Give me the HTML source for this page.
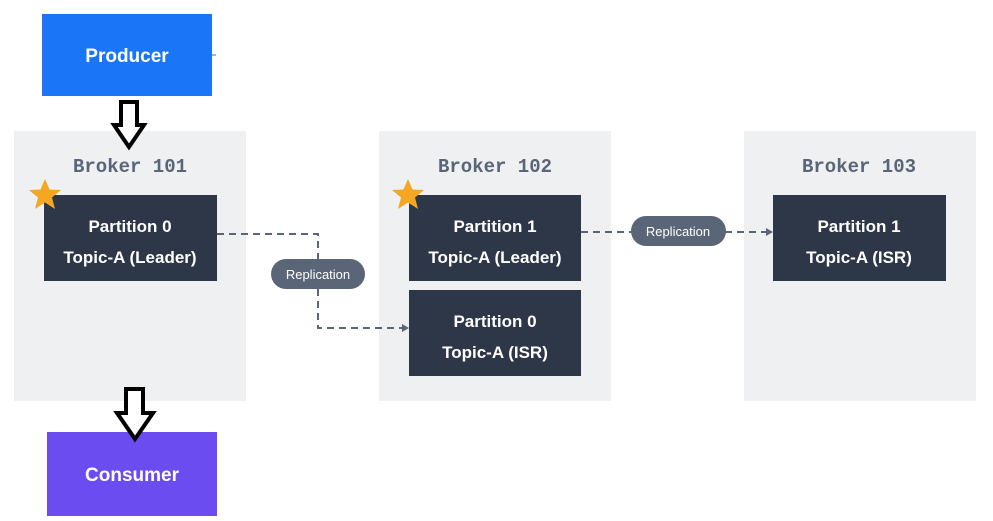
<!DOCTYPE html>
<html><head><style>body{margin:0;background:#fff}svg{display:block}</style></head><body>
<svg width="993" height="521" xmlns="http://www.w3.org/2000/svg" font-family="Liberation Sans, sans-serif">
<rect width="993" height="521" fill="#fff"/>
<rect x="42" y="14" width="170" height="82" fill="#1a76f7"/>
<line x1="212" y1="55" x2="216" y2="55" stroke="#1a76f7"/>
<text x="127" y="62" font-size="19" font-weight="bold" fill="#fff" text-anchor="middle">Producer</text>
<rect x="14" y="131" width="232" height="270" fill="#eef0f2"/>
<rect x="379" y="131" width="232" height="270" fill="#eef0f2"/>
<rect x="744" y="131" width="232" height="270" fill="#eef0f2"/>
<g font-family="Liberation Mono, monospace" font-weight="bold" font-size="19" fill="#5a6577" text-anchor="middle">
<text x="130" y="172">Broker 101</text><text x="495" y="172">Broker 102</text><text x="859" y="172">Broker 103</text></g>
<g stroke="#5a6577" stroke-width="2" stroke-dasharray="7,5" fill="none">
<polyline points="217,234 318,234 318,328 405,328"/>
<line x1="581" y1="232" x2="772" y2="232"/>
</g>
<polygon points="409,328 402,324 402,332" fill="#5a6577"/>
<polygon points="773,232 766,228 766,236" fill="#5a6577"/>
<g fill="#2d3748">
<rect x="44" y="195" width="173" height="86"/><rect x="409" y="195" width="172" height="86"/>
<rect x="409" y="290" width="172" height="86"/><rect x="773" y="195" width="173" height="86"/></g>
<g font-size="17" font-weight="bold" fill="#fff" text-anchor="middle">
<text x="130" y="232">Partition 0</text><text x="130" y="263">Topic-A (Leader)</text>
<text x="495" y="232">Partition 1</text><text x="495" y="263">Topic-A (Leader)</text>
<text x="495" y="327">Partition 0</text><text x="495" y="358">Topic-A (ISR)</text>
<text x="859" y="232">Partition 1</text><text x="859" y="263">Topic-A (ISR)</text></g>
<rect x="271" y="259" width="94" height="30" rx="15" fill="#5a6577"/>
<text x="318" y="279" font-size="13" fill="#fff" text-anchor="middle">Replication</text>
<rect x="631" y="216" width="95" height="30" rx="15" fill="#5a6577"/>
<text x="678" y="236" font-size="13" fill="#fff" text-anchor="middle">Replication</text>
<g fill="#f5a623">
<polygon points="45,179 49.5,189.5 61,190 52,197.5 55,209 45,202.5 35,209 38,197.5 29,190 40.5,189.5"/>
<polygon points="408,179 412.5,189.5 424,190 415,197.5 418,209 408,202.5 398,209 401,197.5 392,190 403.5,189.5"/></g>
<rect x="47" y="432" width="170" height="84" fill="#6a4cf0"/>
<text x="132" y="481" font-size="19" font-weight="bold" fill="#fff" text-anchor="middle">Consumer</text>
<g fill="#fff" stroke="#000" stroke-width="4" stroke-linejoin="miter">
<polygon points="121,102 137,102 137,125 144,125 129,147 114,125 121,125"/>
<polygon points="126,389 143,389 143,413 153,413 135,439 117,413 126,413"/></g>
</svg>
</body></html>
